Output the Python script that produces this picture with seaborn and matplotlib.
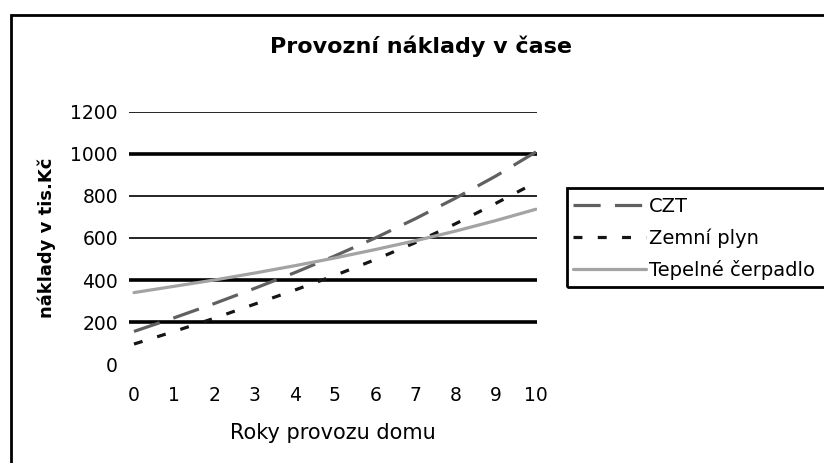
import matplotlib
matplotlib.use("Agg")
import matplotlib.pyplot as plt
import seaborn as sns
import pandas as pd
from matplotlib.patches import Rectangle

years = [0, 1, 2, 3, 4, 5, 6, 7, 8, 9, 10]
czt = [155, 220, 288, 360, 435, 515, 600, 692, 790, 895, 1010]
zemni_plyn = [95, 155, 218, 285, 352, 422, 497, 578, 668, 765, 865]
tepelne_cerpadlo = [340, 370, 400, 433, 468, 505, 545, 587, 633, 683, 737]
series_names = ["CZT", "Zemní plyn", "Tepelné čerpadlo"]
y_ticks = [0, 200, 400, 600, 800, 1000, 1200]

df = pd.DataFrame({
    "rok": years * 3,
    "naklady": czt + zemni_plyn + tepelne_cerpadlo,
    "typ": [series_names[0]] * len(years) + [series_names[1]] * len(years) + [series_names[2]] * len(years),
})

sns.set_theme(style="white")
plt.rcParams["font.family"] = ["DejaVu Sans"]
plt.rcParams["text.color"] = "black"

fig = plt.figure(figsize=(8.24, 4.63), dpi=100)
ax = fig.add_axes([129 / 824, 1 - 364 / 463, 408 / 824, 252 / 463])

palette = {"CZT": "#606060", "Zemní plyn": "#151515", "Tepelné čerpadlo": "#a3a3a3"}
dashes = {"CZT": (8.5, 4.5), "Zemní plyn": (2.8, 4.8), "Tepelné čerpadlo": ""}
sns.lineplot(data=df, x="rok", y="naklady", hue="typ", style="typ",
             palette=palette, dashes=dashes, linewidth=2.3, ax=ax,
             hue_order=series_names, style_order=series_names)

ax.set_xlim(-0.124, 10.025)
ax.set_ylim(0, 1200)
ax.set_xticks(years)
ax.set_yticks(y_ticks)
ax.tick_params(axis="x", length=0, pad=16, labelsize=13.5, colors="black")
ax.tick_params(axis="y", length=0, pad=8, labelsize=13.5, colors="black")
for s in ax.spines.values():
    s.set_visible(False)

# gridlines
widths = {200: 2.6, 400: 2.6, 600: 1.2, 800: 1.2, 1000: 2.6, 1200: 1.2}
for v in y_ticks:
    if v == 0:
        continue
    ax.axhline(v, color="black", linewidth=widths[v], zorder=0)

ax.set_xlabel("Roky provozu domu", fontsize=15, va="center", color="black")
ax.xaxis.set_label_coords(0.5, (364 - 433) / 252)
ax.set_ylabel("náklady v tis.Kč", fontsize=13, fontweight="bold", va="center", color="black")
ax.yaxis.set_label_coords((47 - 129) / 408, 0.5)
ax.set_title("Provozní náklady v čase", fontsize=16, fontweight="bold", color="black",
             x=(421 - 129) / 408, y=(364 - 46) / 252, va="center", pad=0)

leg = ax.legend(loc="upper left", bbox_to_anchor=(573 / 824, 1 - 197 / 463),
                bbox_transform=fig.transFigure, borderaxespad=0, fontsize=14,
                handlelength=3.76, handletextpad=0.15, labelspacing=0.63,
                frameon=False, borderpad=0, title=None)
for h in leg.get_lines():
    h.set_linewidth(2.3)

# legend box (extends past the right edge, as in the source)
fig.patches.append(Rectangle((567 / 824, 1 - 287 / 463), 0.5, 99 / 463,
                             transform=fig.transFigure, fill=False,
                             edgecolor="black", linewidth=2, zorder=10))

# outer chart frame
fig.patches.append(Rectangle((11 / 824, -0.05), 1.0, 1 - 15 / 463 + 0.05,
                             transform=fig.transFigure, fill=False,
                             edgecolor="black", linewidth=2, zorder=10))

fig.savefig("out.png", dpi=100)
